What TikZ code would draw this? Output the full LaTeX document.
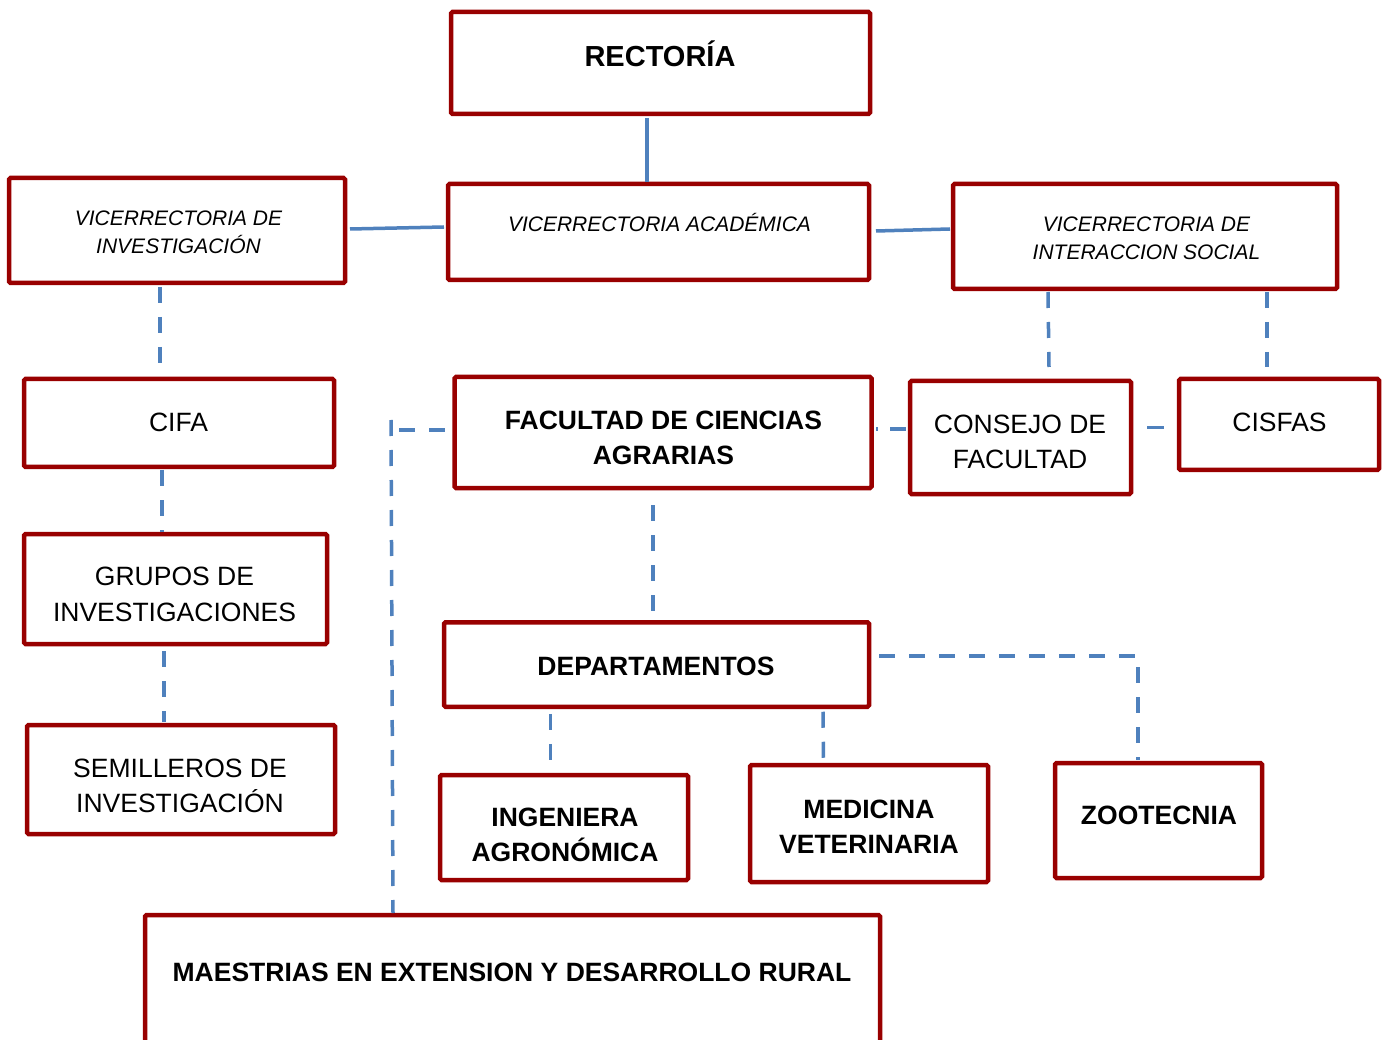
\documentclass[tikz,border=0pt]{standalone}
\usepackage{fontspec}
\setmainfont{Liberation Sans}
\usetikzlibrary{calc}
\definecolor{boxred}{RGB}{153,0,0}
\definecolor{linkblue}{RGB}{79,129,189}
\begin{document}
\begin{tikzpicture}[x=1pt,y=-1pt,
  box/.style={draw=boxred, line width=4.5pt, rounded corners=1.5pt, inner sep=0pt, outer sep=0pt, fill=white},
  lbl/.style={inner sep=0pt, outer sep=0pt, align=center, text=black},
  reg/.style={lbl, font=\fontsize{26.5}{35.5}\selectfont},
  bld/.style={lbl, font=\bfseries\fontsize{26.5}{35.5}\selectfont},
  ita/.style={lbl, font=\itshape\fontsize{21}{28}\selectfont},
  oneline/.style={text height=#1, text depth=0pt},
  conn/.style={draw=linkblue, line width=3.5pt},
  dconn/.style={conn, dash pattern=on 16pt off 14pt},
]
\useasboundingbox (0,0) rectangle (1382,1040);
\clip (0,0) rectangle (1382,1040);
\fill[white] (0,0) rectangle (1382,1040);

% boxes
\node[box, minimum width=419pt, minimum height=102pt] (rect) at (660.5,63) {};
\node[box, minimum width=421pt, minimum height=96pt] (vacad) at (658.5,232) {};
\node[box, minimum width=336pt, minimum height=105pt] (vinv) at (177,230.5) {};
\node[box, minimum width=384pt, minimum height=105pt] (vint) at (1145,236.5) {};
\node[box, minimum width=310pt, minimum height=88pt] (cifa) at (179,423) {};
\node[box, minimum width=303pt, minimum height=110pt] (grupos) at (175.5,589) {};
\node[box, minimum width=308pt, minimum height=109pt] (semi) at (181,779.5) {};
\node[box, minimum width=417pt, minimum height=111pt] (fac) at (663,432.5) {};
\node[box, minimum width=221pt, minimum height=113pt] (consejo) at (1020.5,437.5) {};
\node[box, minimum width=200pt, minimum height=91pt] (cisfas) at (1279,424.5) {};
\node[box, minimum width=425pt, minimum height=84.5pt] (dept) at (656.5,664.5) {};
\node[box, minimum width=248pt, minimum height=105pt] (ing) at (564,827.5) {};
\node[box, minimum width=238pt, minimum height=117pt] (med) at (869,823.5) {};
\node[box, minimum width=207pt, minimum height=115pt] (zoot) at (1158.5,820.5) {};
\node[box, minimum width=735pt, minimum height=200pt] (maes) at (512.5,1015) {};

% texts
\node[bld, font=\bfseries\fontsize{29}{35}\selectfont, oneline=20.8pt] (t-rect) at (660,56.5) {RECTORÍA};
\node[ita, oneline=15pt] (t-vacad) at (659.5,224.5) {VICERRECTORIA ACADÉMICA};
\node[ita] (t-vinv) at (178.5,232) {VICERRECTORIA DE\\INVESTIGACIÓN};
\node[ita] (t-vint) at (1146.5,238.5) {VICERRECTORIA DE\\INTERACCION SOCIAL};
\node[reg, oneline=19pt] (t-cifa) at (178.5,422.5) {CIFA};
\node[reg] (t-grupos) at (174.5,594.5) {GRUPOS DE\\INVESTIGACIONES};
\node[reg] (t-semi) at (180,786) {SEMILLEROS DE\\INVESTIGACIÓN};
\node[bld] (t-fac) at (663.5,438) {FACULTAD DE CIENCIAS\\AGRARIAS};
\node[reg] (t-consejo) at (1020,442) {CONSEJO DE\\FACULTAD};
\node[reg, oneline=19pt] (t-cisfas) at (1279.5,422.5) {CISFAS};
\node[bld, oneline=19pt] (t-dept) at (656,666) {DEPARTAMENTOS};
\node[bld] (t-ing) at (565,835) {INGENIERA\\AGRONÓMICA};
\node[bld] (t-med) at (869,826.5) {MEDICINA\\VETERINARIA};
\node[bld, oneline=19pt] (t-zoot) at (1159,815) {ZOOTECNIA};
\node[bld, oneline=19pt] (t-maes) at (512,972) {MAESTRIAS EN EXTENSION Y DESARROLLO RURAL};

% solid connectors
\draw[conn] ($(rect.south)+(-13.5,4)$) -- ($(vacad.north)+(-11.5,-2)$);
\draw[conn] ($(vinv.east)+(5,-1.5)$) -- ($(vacad.west)+(-4,-5)$);
\draw[conn] ($(vacad.east)+(7,-1)$) -- ($(vint.west)+(-3,-7.5)$);

% dashed connectors
\draw[dconn] ($(vinv.south)+(-17,4)$) -- ($(cifa.north)+(-19,-4)$);
\draw[dconn] ($(cifa.south)+(-17,3)$) -- ($(grupos.north)+(-13.5,-2)$);
\draw[dconn] ($(grupos.south)+(-11.5,7)$) -- ($(semi.north)+(-17,-3)$);
\draw[dconn] ($(vint.south)+(-97,3)$) -- ($(consejo.north)+(28.5,-14)$);
\draw[dconn] ($(vint.south)+(122,3)$) -- ($(cisfas.north)+(-12,-12)$);
\draw[conn, dash pattern=on 16pt off 12pt, dash phase=14pt] ($(fac.east)+(4.5,-3.5)$) -- ($(consejo.west)+(-4,-8.5)$);
\draw[conn] ($(consejo.east)+(16,-10)$) -- ($(cisfas.west)+(-15,3)$);
\draw[dconn] ($(fac.south)+(-10,17)$) -- ($(dept.north)+(-3.5,-10)$);
\coordinate (lcorner) at (391,430);
\coordinate (ltop) at (391,420);
\draw[dconn] ($(fac.west)+(-10,-2.5)$) -- (lcorner);
\draw[dconn] (ltop) -- ($(maes.north)+(-119.5,-2)$);
\draw[dconn] ($(dept.south)+(-106,7)$) -- ($(ing.north)+(-13.5,-14)$);
\draw[dconn] ($(dept.south)+(166.5,5)$) -- ($(med.north)+(-45.5,-6)$);
\draw[dconn] ($(dept.east)+(10,-8.5)$) -| ($(zoot.north)+(-20.5,-3)$);
\end{tikzpicture}
\end{document}
